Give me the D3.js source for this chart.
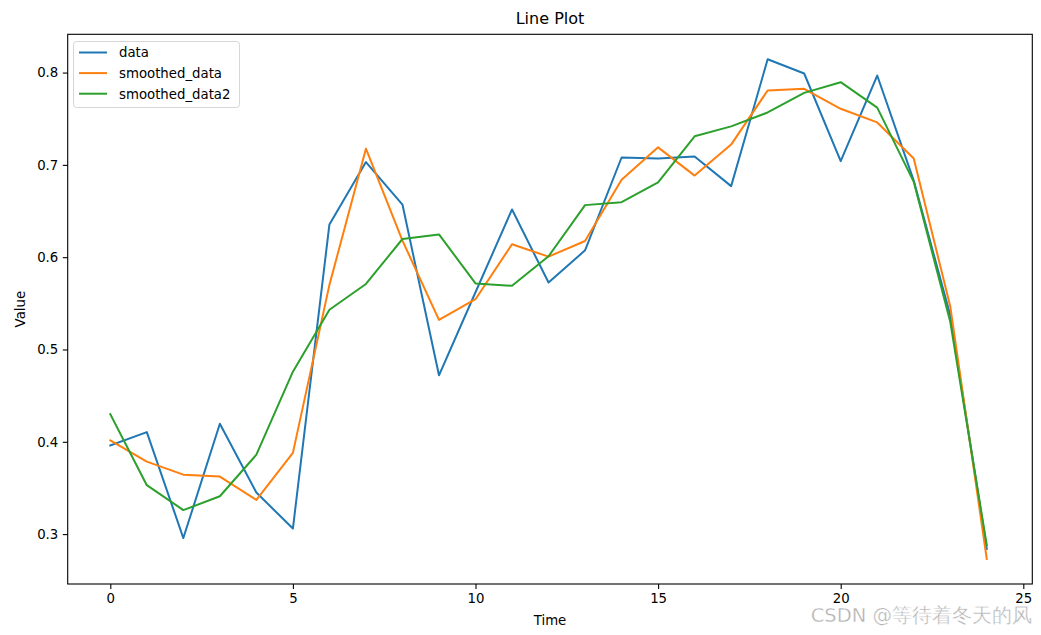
<!DOCTYPE html>
<html><head><meta charset="utf-8">
<script src="https://cdn.jsdelivr.net/npm/d3@7"></script>
<style>body{margin:0;background:#fff;} text{font-family:"DejaVu Sans",sans-serif;}</style>
</head><body>
<svg id="chart" width="1041" height="635"></svg>
<script>
const timeSteps = d3.range(0, 25);
const data = [0.396,0.4105,0.2957,0.4195,0.345,0.306,0.6355,0.703,0.657,0.472,0.562,0.6517,0.5725,0.6074,0.708,0.7068,0.709,0.677,0.8144,0.799,0.704,0.7968,0.683,0.537,0.284];
const smoothedData = [0.4015,0.3785,0.3644,0.3623,0.337,0.388,0.570,0.7176,0.618,0.532,0.5545,0.614,0.6006,0.6175,0.684,0.719,0.6884,0.722,0.7806,0.7824,0.7608,0.746,0.707,0.5466,0.273];
const smoothedData2 = [0.430,0.353,0.326,0.341,0.386,0.476,0.543,0.571,0.6197,0.6247,0.5716,0.569,0.601,0.6564,0.6596,0.681,0.731,0.7417,0.7568,0.778,0.7896,0.762,0.6816,0.530,0.288];
const seriesNames = ["data","smoothed_data","smoothed_data2"];
const seriesColors = ["#1f77b4","#ff7f0e","#2ca02c"];
const xTicks = [0,5,10,15,20,25];
const yTicks = [0.3,0.4,0.5,0.6,0.7,0.8];

const svg = d3.select("#chart");
const L = 67.7, R = 1032.3, T = 34.3, B = 584;
const all = data.concat(smoothedData, smoothedData2);
const ymin = d3.min(all), ymax = d3.max(all), yr = ymax - ymin;
const x = d3.scaleLinear().domain([0, 25]).range([110.3, 1023.3]);
const y = d3.scaleLinear().domain([ymin - 0.05*yr, ymax + 0.05*yr]).range([B, T]);

const xAxis = svg.append("g").attr("transform", `translate(0,${B})`)
  .call(d3.axisBottom(x).tickValues(xTicks).tickFormat(d3.format("d")).tickSize(4.9).tickPadding(4.5));
const yAxis = svg.append("g").attr("transform", `translate(${L},0)`)
  .call(d3.axisLeft(y).tickValues(yTicks).tickFormat(d3.format(".1f")).tickSize(4.9).tickPadding(4.5));
[xAxis, yAxis].forEach(a => {
  a.select(".domain").remove();
  a.selectAll("text").attr("font-size", 13.3).attr("fill", "#000").attr("font-family", "DejaVu Sans");
  a.selectAll("line").attr("stroke", "#000").attr("stroke-width", 1.1);
});

const series = [data, smoothedData, smoothedData2];
const line = d3.line().x((d, i) => x(timeSteps[i])).y(d => y(d));
const g = svg.append("g");
series.forEach((s, k) => {
  g.append("path").datum(s).attr("d", line).attr("fill", "none")
    .attr("stroke", seriesColors[k]).attr("stroke-width", 2).attr("stroke-linejoin", "round").attr("stroke-linecap", "square");
});

svg.append("rect").attr("x", L).attr("y", T).attr("width", R - L).attr("height", B - T)
  .attr("fill", "none").attr("stroke", "#000").attr("stroke-width", 1.1);

// title and labels
svg.append("text").attr("x", (L + R) / 2).attr("y", 24).attr("text-anchor", "middle").attr("font-size", 16).text("Line Plot");
svg.append("text").attr("x", (L + R) / 2).attr("y", 625).attr("text-anchor", "middle").attr("font-size", 13.3).text("Time");
svg.append("text").attr("transform", `translate(25,${(T + B) / 2}) rotate(-90)`).attr("text-anchor", "middle").attr("font-size", 13.3).text("Value");

// legend
const lg = svg.append("g");
lg.append("rect").attr("x", 73.5).attr("y", 41.5).attr("width", 166).attr("height", 66).attr("rx", 3)
  .attr("fill", "#fff").attr("fill-opacity", 0.8).attr("stroke", "#d6d6d6").attr("stroke-width", 1);
seriesNames.forEach((n, k) => {
  const yy = 52.5 + k * 20.6;
  lg.append("line").attr("x1", 79).attr("x2", 107).attr("y1", yy).attr("y2", yy)
    .attr("stroke", seriesColors[k]).attr("stroke-width", 2);
  lg.append("text").attr("x", 119).attr("y", yy + 4.8).attr("font-size", 13.3).text(n);
});

// watermark
svg.append("text").attr("x", 1032).attr("y", 622).attr("text-anchor", "end").attr("font-size", 19.5)
  .attr("fill", "#b0b0b0").attr("stroke", "#fff").attr("stroke-width", 0.4)
  .attr("font-family", "'Liberation Sans', 'Noto Sans CJK SC', sans-serif").text("CSDN @等待着冬天的风");
</script>
</body></html>
